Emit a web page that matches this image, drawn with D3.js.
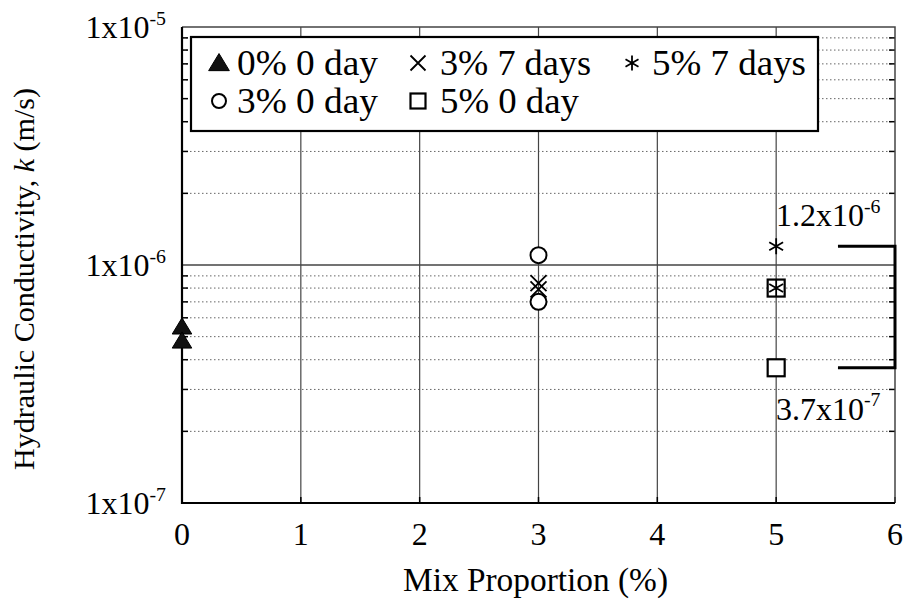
<!DOCTYPE html>
<html>
<head>
<meta charset="utf-8">
<script src="https://cdn.jsdelivr.net/npm/d3@7"></script>
<style>
  body { margin: 0; background: #fff; }
  text { font-family: "Liberation Serif", "DejaVu Serif", serif; fill: #000; }
</style>
</head>
<body>
<div id="graphic"></div>
<script>
(function(d3){

    // Canvas size
    let width = 907, height = 605;

    // Plot area
    let left = 182, right = 895, top = 27, bottom = 503;

    // Data (x = mix proportion %, k in m/s)
    let tri0 = [ [0, 5.5e-7], [0, 4.8e-7] ];           // 0% 0 day
    let circ3 = [ [3, 1.1e-6], [3, 7.0e-7] ];          // 3% 0 day
    let cross3 = [ [3, 8.4e-7], [3, 7.9e-7] ];         // 3% 7 days
    let square5 = [ [5, 8.0e-7], [5, 3.7e-7] ];        // 5% 0 day
    let star5 = [ [5, 1.2e-6], [5, 8.0e-7] ];          // 5% 7 days

    let xTicks = [0, 1, 2, 3, 4, 5, 6];
    let yMajor = [1e-7, 1e-6, 1e-5];
    let yMajorLabels = [ ['1x10', '-7'], ['1x10', '-6'], ['1x10', '-5'] ];

    // Range bracket and its labels
    let bracket = [1.2e-6, 3.7e-7];
    let bracketLabels = [ ['1.2x10', '-6'], ['3.7x10', '-7'] ];

    let legendItems = [
        { sym: 'tri', label: '0% 0 day', row: 0, col: 0 },
        { sym: 'cross', label: '3% 7 days', row: 0, col: 1 },
        { sym: 'star', label: '5% 7 days', row: 0, col: 2 },
        { sym: 'circ', label: '3% 0 day', row: 1, col: 0 },
        { sym: 'square', label: '5% 0 day', row: 1, col: 1 }
    ];

    let svg = d3.select('#graphic')
                .append('svg')
                .attr('width', width)
                .attr('height', height);

    let x = d3.scaleLinear().domain([0, 6]).range([left, right]);
    let y = d3.scaleLog().domain([1e-7, 1e-5]).range([bottom, top]);

    // Minor values 2..9 per decade
    let minor = [];
    [1e-7, 1e-6].forEach(dec => {
        for(let m = 2; m <= 9; m++) minor.push(m * dec);
    });

    // Dotted minor grid
    svg.append('g').selectAll('line')
        .data(minor).join('line')
        .attr('x1', left).attr('x2', right)
        .attr('y1', d => y(d)).attr('y2', d => y(d))
        .attr('stroke', '#666')
        .attr('stroke-width', 1)
        .attr('stroke-dasharray', '1.5,2.5');

    // Solid vertical grid
    svg.append('g').selectAll('line')
        .data(xTicks.slice(1, -1)).join('line')
        .attr('x1', d => x(d)).attr('x2', d => x(d))
        .attr('y1', top).attr('y2', bottom)
        .attr('stroke', '#444')
        .attr('stroke-width', 1.2);

    // Solid major horizontal grid
    svg.append('line')
        .attr('x1', left).attr('x2', right)
        .attr('y1', y(1e-6)).attr('y2', y(1e-6))
        .attr('stroke', '#444')
        .attr('stroke-width', 1.5);

    // Left / right minor ticks (inward)
    let tickG = svg.append('g').attr('stroke', '#000').attr('stroke-width', 1.5);
    minor.forEach(v => {
        tickG.append('line').attr('x1', left).attr('x2', left + 6)
            .attr('y1', y(v)).attr('y2', y(v));
        tickG.append('line').attr('x1', right).attr('x2', right - 6)
            .attr('y1', y(v)).attr('y2', y(v));
    });
    xTicks.forEach(v => {
        tickG.append('line').attr('x1', x(v)).attr('x2', x(v))
            .attr('y1', bottom).attr('y2', bottom - 6);
    });

    // Frame: top/right lighter, left/bottom heavier
    svg.append('path')
        .attr('d', `M${left},${top}H${right}V${bottom}`)
        .attr('fill', 'none').attr('stroke', '#444').attr('stroke-width', 1.5);
    svg.append('path')
        .attr('d', `M${left},${top}V${bottom}H${right}`)
        .attr('fill', 'none').attr('stroke', '#000').attr('stroke-width', 2.2);

    // X tick labels
    svg.append('g').selectAll('text')
        .data(xTicks).join('text')
        .attr('x', d => x(d))
        .attr('y', bottom + 42)
        .attr('text-anchor', 'middle')
        .style('font-size', '32px')
        .text(d => d);

    // Text with a superscript part
    function supLabel(g, parts, xPos, yPos, anchor, size) {
        let t = g.append('text')
            .attr('x', xPos).attr('y', yPos)
            .attr('text-anchor', anchor)
            .style('font-size', size + 'px');
        t.append('tspan').text(parts[0]);
        t.append('tspan').attr('dy', -size * 0.42)
            .style('font-size', (size * 0.62) + 'px').text(parts[1]);
        return t;
    }

    yMajor.forEach((v, i) => {
        supLabel(svg, yMajorLabels[i], 166, y(v) + 11, 'end', 32);
    });

    // Axis titles
    svg.append('text')
        .attr('x', 403)
        .attr('y', 591)
        .attr('textLength', 265)
        .attr('lengthAdjust', 'spacingAndGlyphs')
        .style('font-size', '33px')
        .text('Mix Proportion (%)');

    let yt = svg.append('text')
        .attr('transform', `translate(34, 470) rotate(-90)`)
        .attr('textLength', 382)
        .attr('lengthAdjust', 'spacingAndGlyphs')
        .style('font-size', '30px');
    yt.append('tspan').text('Hydraulic Conductivity, ');
    yt.append('tspan').style('font-style', 'italic').text('k');
    yt.append('tspan').text(' (m/s)');

    // Marker drawing
    function drawSym(g, sym, cx, cy, s) {
        s = s || 8;
        if(sym === 'tri') {
            g.append('path')
                .attr('d', `M${cx},${cy - s * 1.05}L${cx + s * 1.15},${cy + s * 0.85}L${cx - s * 1.15},${cy + s * 0.85}Z`)
                .attr('fill', '#111').attr('stroke', '#000').attr('stroke-width', 1);
        } else if(sym === 'circ') {
            g.append('circle').attr('cx', cx).attr('cy', cy).attr('r', s)
                .attr('fill', '#fff').attr('stroke', '#000').attr('stroke-width', 2);
        } else if(sym === 'square') {
            g.append('rect').attr('x', cx - s).attr('y', cy - s)
                .attr('width', 2 * s).attr('height', 2 * s)
                .attr('fill', '#fff').attr('stroke', '#000').attr('stroke-width', 2.2);
        } else if(sym === 'cross') {
            g.append('path')
                .attr('d', `M${cx - s},${cy - s}L${cx + s},${cy + s}M${cx - s},${cy + s}L${cx + s},${cy - s}`)
                .attr('stroke', '#000').attr('stroke-width', 1.8).attr('fill', 'none');
        } else if(sym === 'star') {
            let p = '';
            for(let k = 0; k < 3; k++) {
                let a = Math.PI / 2 + k * Math.PI / 3;
                p += `M${cx + s * Math.cos(a)},${cy - s * Math.sin(a)}L${cx - s * Math.cos(a)},${cy + s * Math.sin(a)}`;
            }
            g.append('path').attr('d', p)
                .attr('stroke', '#000').attr('stroke-width', 1.8).attr('fill', 'none');
        }
    }

    let marks = svg.append('g');
    tri0.forEach(d => drawSym(marks, 'tri', x(d[0]), y(d[1]), 8.5));
    circ3.forEach(d => drawSym(marks, 'circ', x(d[0]), y(d[1]), 8));
    cross3.forEach(d => drawSym(marks, 'cross', x(d[0]), y(d[1]), 8));
    square5.forEach(d => drawSym(marks, 'square', x(d[0]), y(d[1]), 8.5));
    star5.forEach(d => drawSym(marks, 'star', x(d[0]), y(d[1]), 8));

    // Range bracket
    svg.append('path')
        .attr('d', `M${x(5.52)},${y(bracket[0])}H${right}V${y(bracket[1])}H${x(5.52)}`)
        .attr('fill', 'none').attr('stroke', '#000').attr('stroke-width', 3);

    supLabel(svg, bracketLabels[0], 776, y(bracket[0]) - 20, 'start', 32);
    supLabel(svg, bracketLabels[1], 776, y(bracket[1]) + 52, 'start', 32);

    // Legend
    let lg = svg.append('g');
    lg.append('rect')
        .attr('x', 191).attr('y', 37)
        .attr('width', 627).attr('height', 94)
        .attr('fill', '#fff').attr('stroke', '#000').attr('stroke-width', 2.2);
    let colX = [219, 418, 632];
    let textX = [237, 440, 652];
    let textW = { '0% 0 day': 141, '3% 7 days': 151, '5% 7 days': 154, '3% 0 day': 141, '5% 0 day': 139 };
    let rowY = [63, 101];
    legendItems.forEach(it => {
        let cx = colX[it.col], cy = rowY[it.row];
        let sg = lg.append('g');
        let size = { tri: 9, cross: 7.5, star: 7.5, circ: 7, square: 7.5 }[it.sym];
        drawSym(sg, it.sym, cx, cy, size);
        lg.append('text')
            .attr('x', textX[it.col]).attr('y', cy + 12)
            .attr('textLength', textW[it.label])
            .attr('lengthAdjust', 'spacingAndGlyphs')
            .style('font-size', '35px')
            .text(it.label);
    });

})(window.d3);
</script>
</body>
</html>
